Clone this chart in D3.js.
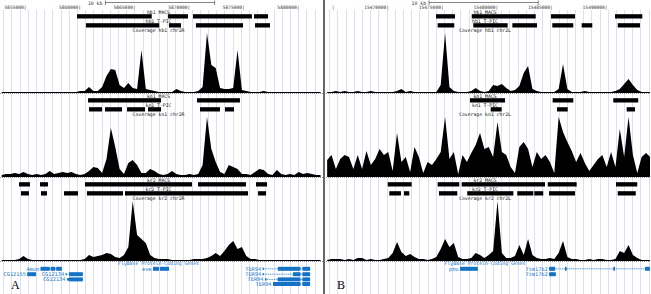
<!DOCTYPE html>
<html>
<head>
<meta charset="utf-8">
<script src="https://cdn.jsdelivr.net/npm/d3@7"></script>
<style>
  body { margin: 0; background: #fff; }
  svg { display: block; }
  text { font-family: "DejaVu Sans Mono", monospace; }
</style>
</head>
<body>
<div id="chart"></div>
<script>
// ---- data ----
// coverage, 400 bp bins, starting at binStart of each panel
const binBp = 400;
const binStartA = 5852600;
const binStartB = 15464200;

const covHb1A = [1,1,1,1,1,1,1,1,1,1, 1,1,1,1,1,1,1,1,2,2, 6,2,2,6,17,24,23,8,5,10,
  5,4,43,4,3,2,1,1,1,1, 4,2,1,1,1,2,6,60,28,25, 5,4,4,5,43,3,2,1,1,1, 2,1,1,1,1,1,1,1,1,1, 1,1,1,1];
const covKn1A = [2,3,3,4,3,5,3,2,3,2, 3,6,3,4,5,4,5,3,2,3, 6,10,9,4,18,49,30,8,3,14,
  17,12,4,4,8,6,3,2,3,6, 3,2,2,3,2,3,12,60,28,15, 5,3,12,10,8,3,3,2,5,8, 7,3,2,7,3,2,3,2,5,3, 4,3,2,2];
const covKr2A = [1,1,1,1,2,5,2,1,1,1, 1,1,1,1,1,1,1,1,1,2, 6,4,5,6,8,7,4,3,6,14,
  60,26,22,18,6,3,2,2,2,1, 1,1,1,1,2,2,2,3,5,8, 5,10,16,20,12,14,5,2,2,1, 1,1,1,1,1,1,1,1,1,1, 1,1,1,1];

const covHb1B = [1,1,2,1,2,1,1,2,1,1, 2,1,1,1,1,1,2,4,1,2, 1,1,1,1,1,1,8,60,6,2,
  1,1,1,2,5,2,1,2,8,7, 9,5,2,3,7,20,27,4,2,1, 1,1,1,4,29,4,1,1,1,2, 1,1,1,1,1,1,2,4,9,14, 8,3,1,1,1];
const covKn1B = [17,22,8,18,22,20,8,22,8,26, 12,18,28,22,25,6,44,15,20,5, 30,20,4,15,12,18,25,60,18,25,
  3,22,15,24,32,44,28,30,20,55, 25,22,10,4,30,35,28,10,25,18, 22,15,4,60,45,35,26,15,24,14,
  6,12,18,22,10,25,10,48,20,60, 22,4,20,24,20];
const covKr2B = [1,2,2,2,1,2,1,3,3,1, 2,1,1,2,3,8,19,9,5,7, 4,2,2,1,2,4,12,22,14,18,
  4,2,2,3,8,6,3,6,10,60, 8,3,3,5,16,6,22,6,3,2, 2,3,2,8,20,4,2,2,1,1, 2,1,2,2,1,1,2,10,8,16, 6,3,1,1,1];

// peak calls, in kb
const macsHb1A = [[5859.70,5866.54],[5868.03,5869.86],[5870.32,5875.72],[5875.91,5877.19]];
const tpicHb1A = [[5860.52,5867.23],[5868.12,5869.22],[5870.59,5874.90],[5876.00,5877.37]];
const macsKn1A = [[5860.71,5867.39],[5870.69,5874.62]];
const tpicKn1A = [[5860.80,5861.99],[5862.26,5863.82],[5864.28,5865.93],[5866.20,5867.39],[5870.96,5872.79],[5873.25,5874.08]];
const macsKr2A = [[5854.39,5855.39],[5856.31,5857.04],[5860.43,5870.23],[5870.78,5875.17],[5876.09,5877.10]];
const tpicKr2A = [[5854.57,5855.30],[5856.40,5856.95],[5858.51,5859.79],[5860.61,5863.91],[5864.09,5875.36],[5876.28,5877.01]];

const macsHb1B = [[15474.37,15476.11],[15477.64,15483.50],[15484.90,15487.10],[15490.76,15493.26]];
const tpicHb1B = [[15474.52,15476.04],[15477.78,15480.93],[15481.36,15483.62],[15485.02,15486.94],[15487.71,15488.68],[15491.01,15493.05]];
const macsKn1B = [[15477.48,15480.69],[15485.05,15486.94],[15490.60,15492.89]];
const tpicKn1B = [[15479.38,15480.38],[15485.45,15486.43],[15491.83,15492.59]];
const macsKr2B = [[15469.95,15472.14],[15474.52,15476.50],[15476.72,15484.35],[15484.60,15487.25],[15490.85,15492.80]];
const tpicKr2B = [[15470.09,15471.16],[15471.44,15471.92],[15474.64,15476.32],[15477.23,15481.45],[15481.81,15483.28],[15483.37,15484.19],[15484.72,15487.10],[15491.01,15492.66]];

// genes (kb): name, row, exons, cds
const genesA = [
  {name:"Amun", row:0, exons:[[5856.37,5857.20],[5857.30,5857.70],[5857.80,5858.30]], cds:[5856.37,5858.30]},
  {name:"eve", row:0, exons:[[5866.66,5867.20],[5867.30,5868.12]], cds:[5866.66,5868.12]},
  {name:"CG12155", row:1, exons:[[5855.15,5855.94]], cds:[5855.15,5855.94]},
  {name:"CG12134", row:1, exons:[[5858.66,5858.75],[5858.97,5860.22]], cds:[5858.97,5860.22]},
  {name:"CG12134", row:2, exons:[[5858.78,5860.22]], cds:[5858.95,5860.22]},
  {name:"TER94", row:0, exons:[[5876.70,5876.80],[5878.10,5880.15],[5880.35,5881.04]], cds:[5878.10,5881.04]},
  {name:"TER94", row:1, exons:[[5876.70,5876.80],[5879.48,5880.15],[5880.35,5881.04]], cds:[5879.48,5881.04]},
  {name:"TER94", row:2, exons:[[5876.91,5877.05],[5878.08,5880.15],[5880.35,5881.04]], cds:[5878.08,5881.04]},
  {name:"TER94", row:3, exons:[[5877.65,5880.15],[5880.35,5881.04]], cds:[5877.65,5881.04]}
];
const genesB = [
  {name:"pnu", row:0, exons:[[15476.57,15478.19]], cds:[15476.57,15478.19]},
  {name:"Tim17b2", row:0, exons:[[15484.74,15485.27],[15486.18,15486.32],[15490.62,15490.76],[15493.51,15493.95]], cds:[15484.74,15493.95]},
  {name:"Tim17b2", row:1, exons:[[15484.74,15485.33]], cds:[15484.74,15485.33]}
];

// position ruler labels
const ticksA = [5855000, 5860000, 5865000, 5870000, 5875000, 5880000];
const ticksB = [15465000, 15470000, 15475000, 15480000, 15485000, 15490000];
const factors = ["hb1", "kn1", "kr2"];
const panelLetters = ["A", "B"];

// ---- build panels ----
const panels = [
  {letter: panelLetters[0], chrom: "chr2R", domain: [5852647, 5882225], range: [0, 323], binStart: binStartA,
   cov: [covHb1A, covKn1A, covKr2A], macs: [macsHb1A, macsKn1A, macsKr2A], tpic: [tpicHb1A, tpicKn1A, tpicKr2A],
   genes: genesA, ticks: ticksA, scaleStart: 5862300},
  {letter: panelLetters[1], chrom: "chr2L", domain: [15464295, 15493965], range: [326, 650], binStart: binStartB,
   cov: [covHb1B, covKn1B, covKr2B], macs: [macsHb1B, macsKn1B, macsKr2B], tpic: [tpicHb1B, tpicKn1B, tpicKr2B],
   genes: genesB, ticks: ticksB, scaleStart: 15473730}
];

const width = 651, height = 294;
const blockStep = 84;
const geneBlue = "#1473c6";
const rowY = [268.8, 274.2, 279.4, 284];

const svg = d3.select("#chart").append("svg")
  .attr("width", width).attr("height", height);

panels.forEach(function(p, pi) {
  const x = d3.scaleLinear().domain(p.domain).range(p.range);
  const mid = (p.range[0] + p.range[1]) / 2 - 3;

  svg.append("clipPath").attr("id", "clip" + pi)
    .append("rect").attr("x", p.range[0]).attr("y", 0)
    .attr("width", p.range[1] - p.range[0]).attr("height", height);

  const g = svg.append("g").attr("clip-path", "url(#clip" + pi + ")");

  // light vertical guide lines
  g.selectAll(".guide").data(d3.range(p.domain[0] + 300, p.domain[1], 750))
    .enter().append("line")
    .attr("x1", d => Math.round(x(d)) + 0.5).attr("x2", d => Math.round(x(d)) + 0.5)
    .attr("y1", 10).attr("y2", height)
    .attr("stroke", "#dedef7").attr("stroke-width", 1);

  // 10 kb scale bar
  const s0 = x(p.scaleStart), s1 = x(p.scaleStart + 10000);
  g.append("path")
    .attr("d", "M" + s0 + ",0.5V5M" + s0 + ",2.5H" + s1 + "M" + s1 + ",0.5V5")
    .attr("stroke", "#333").attr("stroke-width", 0.6).attr("fill", "none");
  g.append("text").attr("x", s0 - 3).attr("y", 4.5)
    .attr("text-anchor", "end").attr("font-size", 4.8).attr("fill", "#333").text("10 kb");

  // position ruler: a label is only written when it fits in the panel
  g.selectAll(".tick").data(p.ticks).enter().append("text")
    .attr("x", d => x(d) + 0.8).attr("y", 8.6)
    .attr("text-anchor", "end").attr("font-size", 4.6).attr("fill", "#333")
    .text(d => (x(d) - 22 < p.range[0] ? "" : d) + "|");

  // one block per factor
  factors.forEach(function(f, fi) {
    const off = fi * blockStep;
    const labels = [[f + " MACS", 12], [f + " T-PIC", 21], ["Coverage " + f + " " + p.chrom, 30]];
    g.selectAll(".lab" + fi).data(labels).enter().append("text")
      .attr("x", mid).attr("y", d => off + d[1] + 1.6)
      .attr("text-anchor", "middle").attr("font-size", 4.8).attr("fill", "#222")
      .text(d => d[0]);

    g.selectAll(".macs" + fi).data(p.macs[fi]).enter().append("rect")
      .attr("x", d => x(d[0] * 1000)).attr("width", d => x(d[1] * 1000) - x(d[0] * 1000))
      .attr("y", off + 14.2).attr("height", 4.3).attr("fill", "#000");
    g.selectAll(".tpic" + fi).data(p.tpic[fi]).enter().append("rect")
      .attr("x", d => x(d[0] * 1000)).attr("width", d => x(d[1] * 1000) - x(d[0] * 1000))
      .attr("y", off + 23.2).attr("height", 4.3).attr("fill", "#000");

    // coverage wiggle
    const vals = p.cov[fi];
    const base = off + 93, top = off + 33;
    const y = d3.scaleLinear().domain([0, d3.max(vals)]).range([base, top]);
    const area = d3.area()
      .x((d, i) => x(p.binStart + i * binBp + binBp / 2))
      .y0(base).y1(d => y(d));
    g.append("path").datum(vals).attr("d", area).attr("fill", "#000");
    g.append("line").attr("x1", p.range[0]).attr("x2", p.range[1])
      .attr("y1", base + 0.5).attr("y2", base + 0.5)
      .attr("stroke", "#555").attr("stroke-width", 0.6).attr("stroke-dasharray", "1,1");
  });

  // gene track
  g.append("text").attr("x", mid).attr("y", 265.4)
    .attr("text-anchor", "middle").attr("font-size", 4.8).attr("fill", geneBlue)
    .text("FlyBase Protein-Coding Genes");

  const gene = g.selectAll(".gene").data(p.genes).enter().append("g");
  gene.append("line")
    .attr("x1", d => x(d.exons[0][0] * 1000)).attr("x2", d => x(d.exons[d.exons.length - 1][1] * 1000))
    .attr("y1", d => rowY[d.row]).attr("y2", d => rowY[d.row])
    .attr("stroke", geneBlue).attr("stroke-width", 0.7).attr("stroke-dasharray", "1.2,0.6");
  gene.each(function(d) {
    const sel = d3.select(this);
    d.exons.forEach(function(e) {
      const a = Math.max(e[0], d.cds[0]), b = Math.min(e[1], d.cds[1]);
      sel.append("rect").attr("x", x(e[0] * 1000)).attr("width", Math.max(0.8, x(e[1] * 1000) - x(e[0] * 1000)))
        .attr("y", rowY[d.row] - 1.2).attr("height", 2.4).attr("fill", geneBlue);
      if (b > a) {
        sel.append("rect").attr("x", x(a * 1000)).attr("width", Math.max(0.8, x(b * 1000) - x(a * 1000)))
          .attr("y", rowY[d.row] - 2).attr("height", 4).attr("fill", geneBlue);
      }
    });
  });
  gene.append("text")
    .attr("x", d => x(d.exons[0][0] * 1000) - 1.5).attr("y", d => rowY[d.row] + 1.8)
    .attr("text-anchor", "end").attr("font-size", 5.3).attr("fill", geneBlue)
    .text(d => d.name);

  // panel letter
  svg.append("text").attr("x", p.range[0] + 11).attr("y", 288.5)
    .style("font-family", "'Liberation Serif', serif").attr("font-size", 12).attr("fill", "#000")
    .text(p.letter);
});

// divider between the panels
svg.append("line").attr("x1", 324).attr("x2", 324).attr("y1", 0).attr("y2", height)
  .attr("stroke", "#000").attr("stroke-width", 1.2);
</script>
</body>
</html>
